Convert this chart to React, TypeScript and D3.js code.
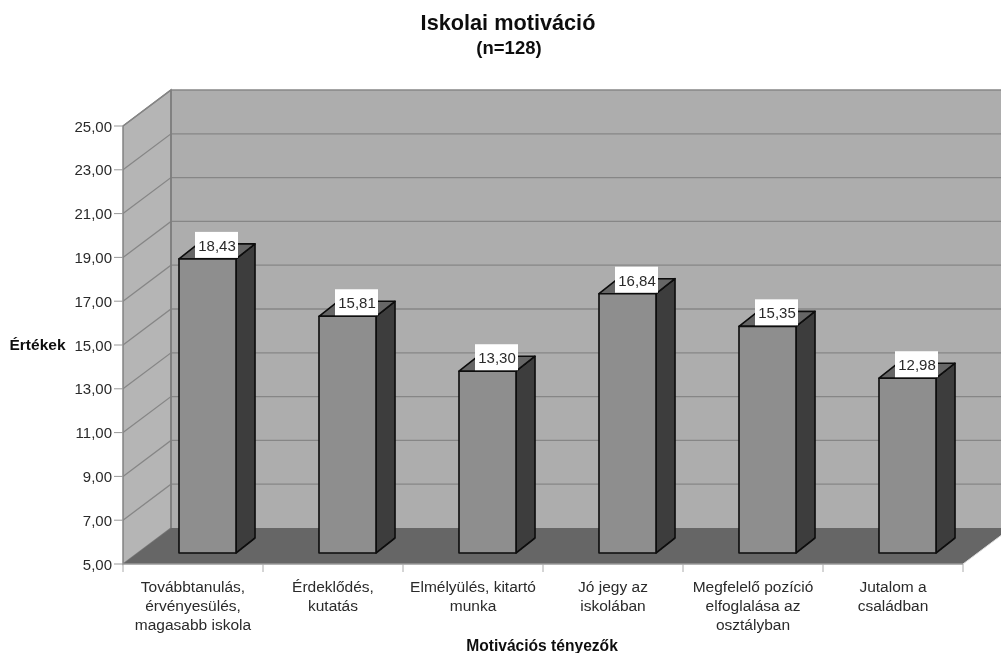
import React from "react";
import * as d3 from "d3";

const categories = [
  ["Továbbtanulás,", "érvényesülés,", "magasabb iskola"],
  ["Érdeklődés,", "kutatás"],
  ["Elmélyülés, kitartó", "munka"],
  ["Jó jegy az", "iskolában"],
  ["Megfelelő pozíció", "elfoglalása az", "osztályban"],
  ["Jutalom a", "családban"],
];
const values = [18.43, 15.81, 13.3, 16.84, 15.35, 12.98];
const ticks = [5, 7, 9, 11, 13, 15, 17, 19, 21, 23, 25];
const fmt = (v: number) => v.toFixed(2).replace(".", ",");

const FONT = "'Liberation Sans', Arial, sans-serif";
const y = d3.scaleLinear().domain([5, 25]).range([564, 126]);
const x = d3.scaleBand<number>().domain(d3.range(6)).range([123, 963]).paddingInner(0).paddingOuter(0);
const DX = 48, DY = -36;
const BX = 19, BY = -15, BW = 57, BOFF = -11;
const pts = (p: number[][]) => p.map((q) => q.join(",")).join(" ");

export default function App() {
  const x0 = 123, x1 = 963, y0 = y(5), yT = y(25);
  return (
    <svg width={1001} height={653} viewBox="0 0 1001 653" style={{ position: "absolute", left: 0, top: 0, background: "#fff" }} fontFamily={FONT}>
      <defs>
        <filter id="soft" x="-2%" y="-2%" width="104%" height="104%">
          <feGaussianBlur stdDeviation="0.55" />
        </filter>
      </defs>
      <g filter="url(#soft)">
        <polygon points={pts([[x0 + DX, yT + DY], [x1 + DX, yT + DY], [x1 + DX, y0 + DY], [x0 + DX, y0 + DY]])} fill="#adadad" />
        <polygon points={pts([[x0, yT], [x0 + DX, yT + DY], [x0 + DX, y0 + DY], [x0, y0]])} fill="#b5b5b5" stroke="#7d7d7d" strokeWidth={1.4} />
        <polygon points={pts([[x0, y0], [x0 + DX, y0 + DY], [x1 + DX, y0 + DY], [x1, y0]])} fill="#666666" />
        {ticks.slice(1).map((t) => (
          <polyline key={t} points={pts([[x0, y(t)], [x0 + DX, y(t) + DY], [x1 + DX, y(t) + DY]])} stroke="#868686" strokeWidth={1.3} fill="none" />
        ))}
        <line x1={x0 + DX} x2={x0 + DX} y1={yT + DY} y2={y0 + DY} stroke="#7d7d7d" strokeWidth={1.4} />
        <line x1={x0} x2={x1} y1={y0} y2={y0} stroke="#999" strokeWidth={1.5} />
        <line x1={x1} x2={x1 + DX} y1={y0} y2={y0 + DY} stroke="#ddd" strokeWidth={1} />
        {ticks.map((t) => (
          <line key={t} x1={x0 - 9} x2={x0} y1={y(t)} y2={y(t)} stroke="#999" strokeWidth={1} />
        ))}
        {d3.range(7).map((i) => {
          const px = i < 6 ? x(i)! : x1;
          return <line key={i} x1={px} x2={px} y1={y0} y2={y0 + 8} stroke="#aaa" strokeWidth={1} />;
        })}
        {values.map((v, i) => {
          const l = x(i)! + 56;
          const r = l + BW;
          const bottom = y(5) + BOFF;
          const top = y(v) + BOFF;
          return (
            <g key={i} stroke="#0c0c0c" strokeWidth={1.6} strokeLinejoin="round">
              <polygon points={pts([[r, top], [r + BX, top + BY], [r + BX, bottom + BY], [r, bottom]])} fill="#3d3d3d" />
              <polygon points={pts([[l, top], [l + BX, top + BY], [r + BX, top + BY], [r, top]])} fill="#666666" />
              <rect x={l} y={top} width={BW} height={bottom - top} fill="#8e8e8e" />
            </g>
          );
        })}
        {values.map((v, i) => {
          const l = x(i)! + 56;
          const top = y(v) - 11;
          return (
            <g key={i}>
              <rect x={l + 16} y={top - 27} width={43} height={26} fill="#ffffff" />
              <text x={l + 38} y={top - 8} textAnchor="middle" fontSize={15} fill="#2a2a2a">{fmt(v)}</text>
            </g>
          );
        })}
        <g fontSize={15} fill="#2a2a2a">
          {ticks.map((t) => (
            <text key={t} x={112} y={y(t) + 5.5} textAnchor="end">{fmt(t)}</text>
          ))}
          {categories.map((lines, i) => (
            <text key={i} textAnchor="middle" fontSize={15.5}>
              {lines.map((s, j) => (
                <tspan key={j} x={x(i)! + x.bandwidth() / 2} y={591.5 + j * 19}>{s}</tspan>
              ))}
            </text>
          ))}
        </g>
        <text x={508} y={29.5} textAnchor="middle" fontSize={21.7} fontWeight="bold" fill="#111">Iskolai motiváció</text>
        <text x={509} y={54} textAnchor="middle" fontSize={18.5} fontWeight="bold" fill="#111">(n=128)</text>
        <text x={37.5} y={350} textAnchor="middle" fontSize={15.5} fontWeight="bold" fill="#111">Értékek</text>
        <text x={542} y={651} textAnchor="middle" fontSize={15.6} fontWeight="bold" fill="#111">Motivációs tényezők</text>
      </g>
    </svg>
  );
}
